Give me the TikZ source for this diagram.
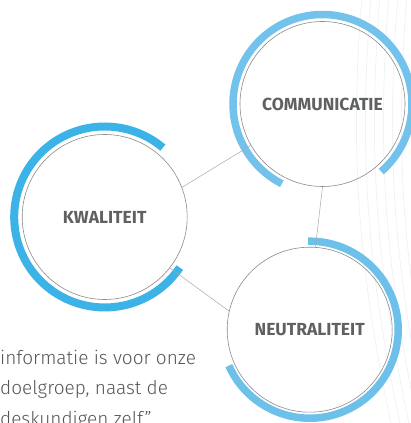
\documentclass[tikz,border=0pt]{standalone}
\usepackage{fontspec}
\setmainfont{Fira Sans}
\newfontfamily\lightfont{Fira Sans Light}
\definecolor{ringgray}{HTML}{8A8A8C}
\definecolor{linegray}{HTML}{A8A8AA}
\definecolor{labelgray}{HTML}{5F6062}
\definecolor{bodygray}{HTML}{555557}
\definecolor{blueC}{HTML}{72C2EC}
\definecolor{blueK}{HTML}{3BB3E6}
\definecolor{blueN}{HTML}{6CC0EA}
\definecolor{bgline}{HTML}{EDF3F7}
\begin{document}
\begin{tikzpicture}[x=1pt,y=1pt,
  ring/.style={circle, draw=ringgray, line width=0.6pt, minimum size=165pt, inner sep=0pt,
    font=\bfseries\fontsize{17.5}{20}\selectfont, text=labelgray},
  conn/.style={draw=linegray, line width=0.5pt},
  band/.style={line width=7.5pt},
  quote/.style={anchor=base west, inner sep=0pt, font=\lightfont\fontsize{19}{22}\selectfont, text=bodygray},
  bg/.style={draw=bgline, line width=0.8pt}]
\useasboundingbox (0,0) rectangle (411,423);
\clip (0,0) rectangle (411,423);
% faint background curves
\foreach \d in {0,9,18,27,36,45} {
  \draw[bg] (362+\d,428) .. controls (352+\d,300) and (352+\d,180) .. (392+\d,-5);
}
% circles
\node[ring] (C) at (322.5,319) {COMMUNICATIE};
\node[ring] (K) at (104.7,206) {KWALITEIT};
\node[ring] (N) at (309.7,93.3) {NEUTRALITEIT};
% blue bands
\draw[band, draw=blueC] ([shift={(-49:89.5)}]C.center) arc[start angle=-49, end angle=243, radius=89.5];
\draw[band, draw=blueK, line width=8pt] ([shift={(50:90.5)}]K.center) arc[start angle=50, end angle=326, radius=90.5];
\draw[band, draw=blueN] ([shift={(-156:88.5)}]N.center) arc[start angle=-156, end angle=91, radius=88.5];
% connectors
\draw[conn] (K.21) -- (C.210);
\draw[conn] (K.-38) -- (N.167);
\draw[conn] (C.-90) -- (N.86);
% quote
\node[quote] (q1) at (0,58) {informatie is voor onze};
\node[quote] (q2) at (0,28) {doelgroep, naast de};
\node[quote] (q3) at (0,-2) {deskundigen zelf”};
\end{tikzpicture}
\end{document}
